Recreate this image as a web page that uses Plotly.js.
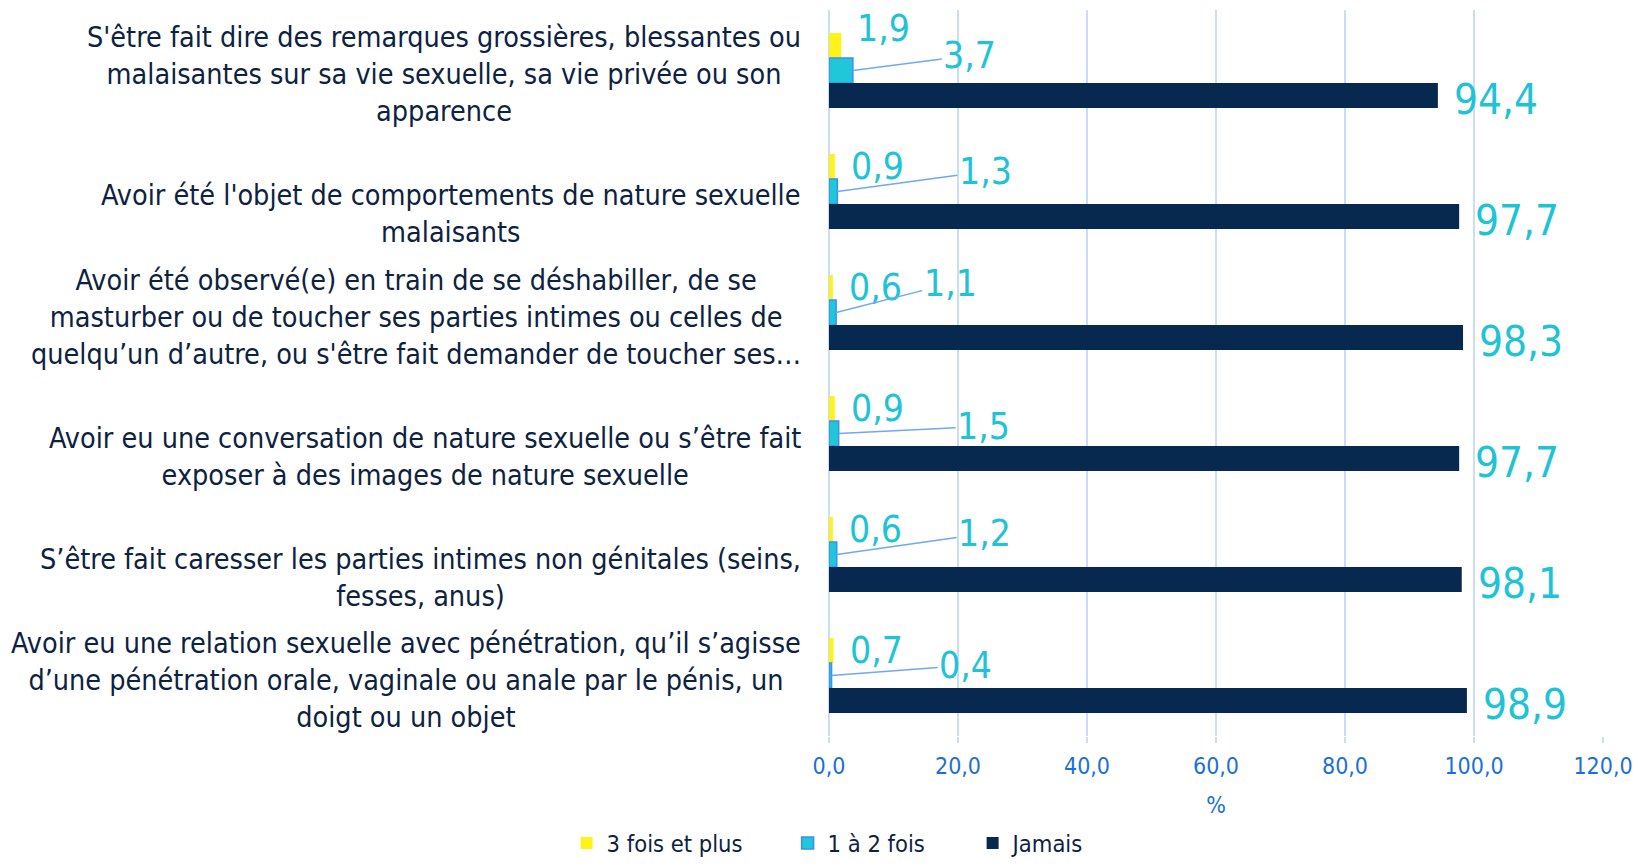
<!DOCTYPE html>
<html><head><meta charset="utf-8">
<script src="https://cdn.plot.ly/plotly-3.0.1.min.js"></script>
<style>html,body{margin:0;padding:0;background:#fff}#chart{width:1638px;height:866px}</style>
</head><body><div id="chart"></div>
<script>
const categories = [
 "S'être fait dire des remarques grossières, blessantes ou<br>malaisantes sur sa vie sexuelle, sa vie privée ou son<br>apparence",
 "Avoir été l'objet de comportements de nature sexuelle<br>malaisants",
 "Avoir été observé(e) en train de se déshabiller, de se<br>masturber ou de toucher ses parties intimes ou celles de<br>quelqu’un d’autre, ou s'être fait demander de toucher ses…",
 "Avoir eu une conversation de nature sexuelle ou s’être fait<br>exposer à des images de nature sexuelle",
 "S’être fait caresser les parties intimes non génitales (seins,<br>fesses, anus)",
 "Avoir eu une relation sexuelle avec pénétration, qu’il s’agisse<br>d’une pénétration orale, vaginale ou anale par le pénis, un<br>doigt ou un objet"
];
const seriesNames = ["3 fois et plus", "1 à 2 fois", "Jamais"];
const threePlus = [1.9, 0.9, 0.6, 0.9, 0.6, 0.7];
const oneTwo = [3.7, 1.3, 1.1, 1.5, 1.2, 0.4];
const never = [94.4, 97.7, 98.3, 97.7, 98.1, 98.9];

// label placement (pixel offsets, style only)
const yellowLabelUp = [42, 25, 25, 25, 25, 25];
const cyanLabelAx = [117, 148, 114, 145, 148, 134];
const cyanLabelAy = [-15, -20, -29, -7, -21, -10];

const FONT = "DejaVu Sans Condensed, DejaVu Sans, sans-serif";
const fmt = v => v.toFixed(1).replace('.', ',');
const LABEL_COLOR = '#1FC3D6';
const TEXT_DARK = '#0D2240';

const traces = [
 {type:'bar', orientation:'h', name:seriesNames[0], y:categories, x:threePlus,
  marker:{color:'#FFF21A', line:{width:0}}, hoverinfo:'x', legendwidth:176},
 {type:'bar', orientation:'h', name:seriesNames[1], y:categories, x:oneTwo,
  marker:{color:'#1FC7D8', line:{color:'#3E8EF0', width:1.5}}, hoverinfo:'x', legendwidth:140},
 {type:'bar', orientation:'h', name:seriesNames[2], y:categories, x:never,
  marker:{color:'#08294F', line:{width:0}}, hoverinfo:'x', legendwidth:100}
];

const annotations = [];
categories.forEach((c, i) => {
  annotations.push({xref:'paper', yref:'y', x:0, y:c, xanchor:'right', yanchor:'bottom',
    xshift:-26, yshift:-60, align:'center', showarrow:false, text:c,
    font:{family:FONT, size:28.5, color:TEXT_DARK}});
  annotations.push({xref:'x', yref:'y', x:threePlus[i], y:c, xanchor:'left', yanchor:'middle',
    xshift:14, yshift:yellowLabelUp[i], showarrow:false, text:fmt(threePlus[i]),
    font:{family:FONT, size:37, color:LABEL_COLOR}});
  annotations.push({xref:'x', yref:'y', x:oneTwo[i], y:c, showarrow:true, arrowhead:0,
    arrowwidth:1.5, arrowcolor:'#6FA8F5', ax:cyanLabelAx[i], ay:cyanLabelAy[i], standoff:0,
    text:fmt(oneTwo[i]), font:{family:FONT, size:37, color:LABEL_COLOR}});
  annotations.push({xref:'x', yref:'y', x:never[i], y:c, xanchor:'left', yanchor:'middle',
    xshift:14, yshift:-29, showarrow:false, text:fmt(never[i]),
    font:{family:FONT, size:42, color:LABEL_COLOR}});
});

const layout = {
  width:1638, height:866,
  margin:{l:829, r:35, t:10, b:130, autoexpand:false},
  paper_bgcolor:'#fff', plot_bgcolor:'#fff',
  barmode:'group', bargap:0.38, bargroupgap:0,
  separators:', ',
  font:{family:FONT, color:TEXT_DARK},
  xaxis:{range:[0,120], dtick:20, tickformat:'.1f', showgrid:true, gridcolor:'#C9DDF5', gridwidth:1.5,
    zeroline:true, zerolinecolor:'#C9DDF5', zerolinewidth:1.5, showline:false,
    ticks:'outside', ticklen:6, tickcolor:'#C9DDF5', tickwidth:1.5, ticklabelstandoff:3,
    automargin:false,
    tickfont:{family:FONT, size:23, color:'#1C6FD8'},
    title:{text:'%', font:{family:FONT, size:23, color:'#1C6FD8'}, standoff:19}},
  yaxis:{type:'category', autorange:'reversed', showticklabels:false, showgrid:false,
    zeroline:false, showline:false, ticks:'', automargin:false},
  showlegend:true,
  legend:{orientation:'h', x:-0.339, xanchor:'left', y:-0.178, yanchor:'bottom',
    font:{family:FONT, size:23.5, color:TEXT_DARK}, traceorder:'normal'},
  annotations:annotations
};

Plotly.newPlot('chart', traces, layout, {displayModeBar:false, responsive:false});
</script>
</body></html>
